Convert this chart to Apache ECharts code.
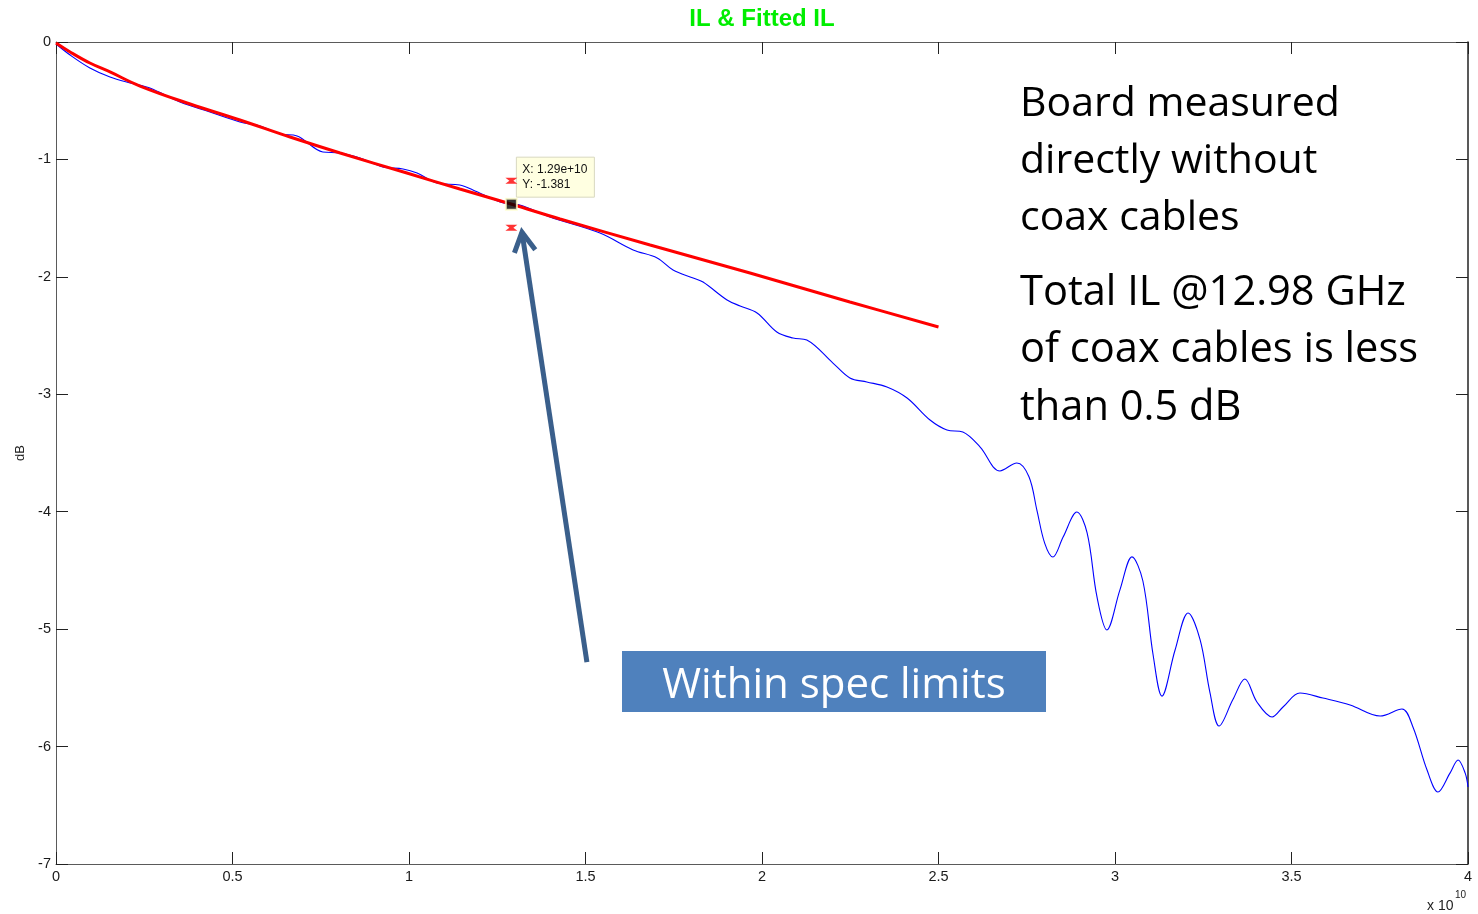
<!DOCTYPE html>
<html>
<head>
<meta charset="utf-8">
<title>IL &amp; Fitted IL</title>
<script src="https://cdn.jsdelivr.net/npm/echarts@6/dist/echarts.min.js"></script>
<style>
  html, body { margin: 0; padding: 0; background: #fff; }
  #chart { width: 1478px; height: 914px; }
</style>
</head>
<body>
<div id="chart"></div>
<script>
// Measured insertion loss of the board (frequency in GHz, loss in dB)
const freqGHz = [
  0, 0.40, 0.96, 1.53, 2.10, 2.66, 3.51, 4.36, 5.21, 5.78, 6.35, 6.83, 7.56, 8.05, 8.61,
  9.26, 9.83, 10.23, 10.79, 11.44, 11.81, 12.58, 12.90, 13.14, 13.99, 15.41, 16.35, 17.03,
  17.48, 18.05, 18.33, 19.01, 19.38, 19.86, 20.42, 20.88, 21.27, 22.01, 22.49, 22.97, 23.54,
  24.11, 24.76, 25.24, 25.69, 26.18, 26.74, 27.22, 27.56, 27.79, 28.01, 28.24, 28.53, 28.92,
  29.21, 29.49, 29.77, 30.14, 30.48, 30.79, 31.08, 31.33, 31.70, 32.07, 32.41, 32.69, 32.95,
  33.34, 33.68, 34.02, 34.45, 34.76, 35.24, 35.89, 36.66, 37.51, 38.13, 38.44, 38.84, 39.15,
  39.49, 39.72, 39.92, 40.00
];
const ilMeasured = [
  -0.017, -0.111, -0.221, -0.298, -0.349, -0.392, -0.511, -0.596, -0.681, -0.715, -0.783, -0.800, -0.937, -0.945, -0.988,
  -1.064, -1.081, -1.116, -1.201, -1.218, -1.260, -1.363, -1.381, -1.388, -1.490, -1.627, -1.771, -1.839,
  -1.942, -2.010, -2.044, -2.197, -2.248, -2.308, -2.470, -2.521, -2.538, -2.734, -2.861, -2.895, -2.938,
  -3.032, -3.219, -3.304, -3.321, -3.449, -3.653, -3.585, -3.700, -3.990, -4.270, -4.386, -4.216, -4.003,
  -4.181, -4.726, -5.007, -4.666, -4.385, -4.590, -5.220, -5.570, -5.180, -4.862, -5.090, -5.540, -5.825,
  -5.600, -5.425, -5.620, -5.748, -5.663, -5.544, -5.587, -5.646, -5.740, -5.680, -5.833, -6.200, -6.387,
  -6.226, -6.114, -6.226, -6.344
];

// Fitted insertion loss (frequency in GHz, loss in dB)
const fitFreqGHz = [0, 0.40, 0.96, 1.53, 2.38, 3.80, 5.21, 6.63, 8.05, 9.94, 11.44, 12.89, 14.28, 16.83, 19.66, 22.49, 25.00];
const ilFitted = [-0.009, -0.085, -0.179, -0.255, -0.375, -0.528, -0.664, -0.809, -0.945, -1.116, -1.252, -1.380, -1.507, -1.729, -1.967, -2.214, -2.427];

// Data cursor reading and the spec limits drawn around it
const probeFreqGHz = 12.9;
const probeIL = -1.381;
const specUpper = -1.181;
const specLower = -1.581;

// Annotation arrow: tail and head in data coordinates [GHz, dB]
const arrowTail = [15.04, -5.28];
const arrowHead = [13.20, -1.62];

const chart = echarts.init(document.getElementById('chart'), null, { renderer: 'canvas' });

const axisGray = '#5a5a5a';
const tickStyle = { show: true, inside: true, length: 12, lineStyle: { color: '#222', width: 1 } };
const labelFont = { fontFamily: 'Arial, "Liberation Sans", sans-serif', fontSize: 14.5, color: '#1a1a1a' };

const option = {
  animation: false,
  backgroundColor: '#ffffff',
  grid: { left: 56, right: 10, top: 42, bottom: 50, containLabel: false },
  xAxis: [
    {
      type: 'value', min: 0, max: 40, interval: 5,
      axisLine: { show: true, onZero: false, lineStyle: { color: axisGray, width: 1 } },
      axisTick: tickStyle,
      axisLabel: Object.assign({ margin: 5, formatter: v => String(v / 10) }, labelFont),
      splitLine: { show: false }
    },
    {
      type: 'value', min: 0, max: 40, interval: 5, position: 'top',
      axisLine: { show: true, onZero: false, lineStyle: { color: axisGray, width: 1 } },
      axisTick: tickStyle,
      axisLabel: { show: false },
      splitLine: { show: false }
    }
  ],
  yAxis: [
    {
      type: 'value', min: -7, max: 0, interval: 1, position: 'left',
      name: 'dB', nameLocation: 'middle', nameGap: 28, nameRotate: 90,
      nameTextStyle: { fontFamily: 'Arial, "Liberation Sans", sans-serif', fontSize: 13, color: '#222' },
      axisLine: { show: true, onZero: false, lineStyle: { color: axisGray, width: 1 } },
      axisTick: tickStyle,
      axisLabel: Object.assign({ margin: 5 }, labelFont),
      splitLine: { show: false }
    },
    {
      type: 'value', min: -7, max: 0, interval: 1, position: 'right',
      axisLine: { show: true, onZero: false, lineStyle: { color: '#222', width: 1.5 } },
      axisTick: tickStyle,
      axisLabel: { show: false },
      splitLine: { show: false }
    }
  ],
  series: [
    {
      name: 'IL',
      type: 'line',
      data: freqGHz.map((f, i) => [f, ilMeasured[i]]),
      smooth: 0.35,
      showSymbol: false,
      lineStyle: { color: '#0000ff', width: 1.1 },
      z: 3
    },
    {
      name: 'Fitted IL',
      type: 'line',
      data: fitFreqGHz.map((f, i) => [f, ilFitted[i]]),
      smooth: 0.4,
      showSymbol: false,
      lineStyle: { color: '#ff0000', width: 3 },
      z: 4
    },
    {
      name: 'Spec limits',
      type: 'scatter',
      data: [[probeFreqGHz, specUpper], [probeFreqGHz, specLower]],
      symbol: 'path://M0,0 L12,0 L8,3 L12,6 L0,6 L4,3 Z',
      symbolSize: [12, 6],
      itemStyle: { color: '#ff0000' },
      z: 5
    },
    {
      name: 'Data cursor',
      type: 'scatter',
      data: [[probeFreqGHz, probeIL]],
      symbol: 'rect',
      symbolSize: 11,
      itemStyle: { color: '#000000', borderColor: '#ffffcc', borderWidth: 2 },
      z: 6
    }
  ]
};

chart.setOption(option);

// Annotations placed from data coordinates
const p = chart.convertToPixel({ gridIndex: 0 }, [probeFreqGHz, probeIL]);
const tail = chart.convertToPixel({ gridIndex: 0 }, arrowTail);
const head = chart.convertToPixel({ gridIndex: 0 }, arrowHead);
const gridLeft = chart.convertToPixel({ gridIndex: 0 }, [0, 0]);
const gridRight = chart.convertToPixel({ gridIndex: 0 }, [40, -7]);

// arrow head chevron
const ang = Math.atan2(head[1] - tail[1], head[0] - tail[0]);
const hl = 22, spread = 0.5;
const wing1 = [head[0] - hl * Math.cos(ang - spread), head[1] - hl * Math.sin(ang - spread)];
const wing2 = [head[0] - hl * Math.cos(ang + spread), head[1] - hl * Math.sin(ang + spread)];

const arrowColor = '#3a5f8b';
const bodyFont = '"Open Sans", "Noto Sans", sans-serif';
const freqHz = (probeFreqGHz * 1e9).toExponential(2);

chart.setOption({
  graphic: [
    // plot title, centred over the axes box
    { type: 'text', z: 10, x: (gridLeft[0] + gridRight[0]) / 2, y: 19,
      style: { text: 'IL & Fitted IL', fill: '#00ee00', align: 'center', verticalAlign: 'middle',
               font: 'bold 24px Arial, "Liberation Sans", sans-serif' } },
    // data tip box
    {
      type: 'group', x: p[0] + 5, y: p[1] - 47, z: 10,
      children: [
        { type: 'rect', shape: { x: 0, y: 0, width: 78, height: 40 },
          style: { fill: '#ffffe1', stroke: '#d8d8c0', lineWidth: 1 } },
        { type: 'text', x: 6, y: 5,
          style: { text: 'X: ' + freqHz + '\nY: ' + probeIL.toFixed(3), fill: '#111',
                   font: '12px Arial, "Liberation Sans", sans-serif', lineHeight: 15 } }
      ]
    },
    // arrow pointing at the cursor
    { type: 'line', z: 9, shape: { x1: tail[0], y1: tail[1], x2: head[0], y2: head[1] },
      style: { stroke: arrowColor, lineWidth: 5 } },
    { type: 'polyline', z: 9, shape: { points: [wing1, head, wing2] },
      style: { stroke: arrowColor, lineWidth: 5, fill: null, lineJoin: 'miter' } },
    // callout box
    { type: 'rect', z: 9, shape: { x: 622, y: 651, width: 424, height: 61 },
      style: { fill: '#4f81bd' } },
    { type: 'text', z: 10, x: 834, y: 686,
      style: { text: 'Within spec limits', fill: '#ffffff', font: '42px ' + bodyFont,
               align: 'center', verticalAlign: 'middle' } },
    // notes on the right
    { type: 'text', z: 10, x: 1020, y: 76,
      style: { text: 'Board measured\ndirectly without\ncoax cables', fill: '#000',
               font: '41px ' + bodyFont, lineHeight: 57 } },
    { type: 'text', z: 10, x: 1020, y: 264,
      style: { text: 'Total IL @12.98 GHz\nof coax cables is less\nthan 0.5 dB', fill: '#000',
               font: '41.6px ' + bodyFont, lineHeight: 57.5 } },
    // axis exponent
    { type: 'text', z: 10, x: 1427, y: 899,
      style: { text: 'x 10', fill: '#222', font: '14px Arial, "Liberation Sans", sans-serif' } },
    { type: 'text', z: 10, x: 1455, y: 890,
      style: { text: '10', fill: '#222', font: '10px Arial, "Liberation Sans", sans-serif' } }
  ]
});
</script>
</body>
</html>
